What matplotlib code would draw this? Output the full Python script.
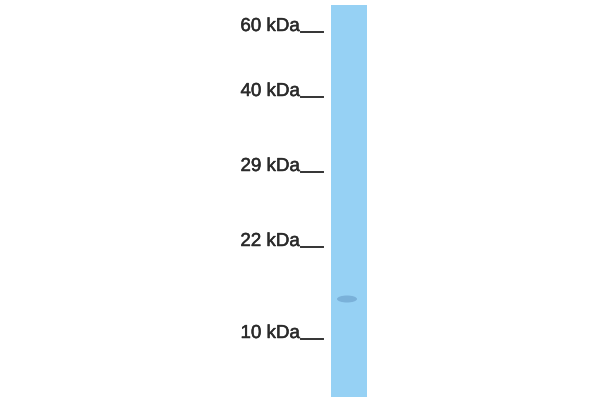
import numpy as np
import matplotlib
matplotlib.use("Agg")
import matplotlib.pyplot as plt
import matplotlib.patheffects as pe
from matplotlib.patches import Rectangle, Ellipse

# marker ladder (label, migration in px from top of image)
marker_labels = ["60 kDa", "40 kDa", "29 kDa", "22 kDa", "10 kDa"]
marker_y = [31, 96, 171, 246, 338]

# single lane and its band
lane_top, lane_bottom = 5, 397
lane_left, lane_right = 331, 367
band_y = 299
band_x = 347

plt.rcParams["font.family"] = ["Liberation Sans", "DejaVu Sans"]

fig = plt.figure(figsize=(6, 4), dpi=100)
ax = fig.add_axes([0, 0, 1, 1])
ax.set_xlim(0, 600)
ax.set_ylim(400, 0)
ax.axis("off")

ax.add_patch(Rectangle((lane_left, lane_top), lane_right - lane_left,
                       lane_bottom - lane_top, facecolor="#96d1f4",
                       edgecolor="none"))
ax.add_patch(Ellipse((band_x, band_y), 20, 7, facecolor="#5f92c0",
                     edgecolor="none", alpha=0.5))

for lab, y in zip(marker_labels, marker_y):
    ax.text(300, y, lab, ha="right", va="baseline", fontsize=13.5,
            color="#2b2b2b",
            path_effects=[pe.withStroke(linewidth=0.35, foreground="#2b2b2b")])
    ax.plot([301, 323], [y + 1, y + 1], color="#333333", lw=1.4)

fig.savefig("out.png", dpi=100)
